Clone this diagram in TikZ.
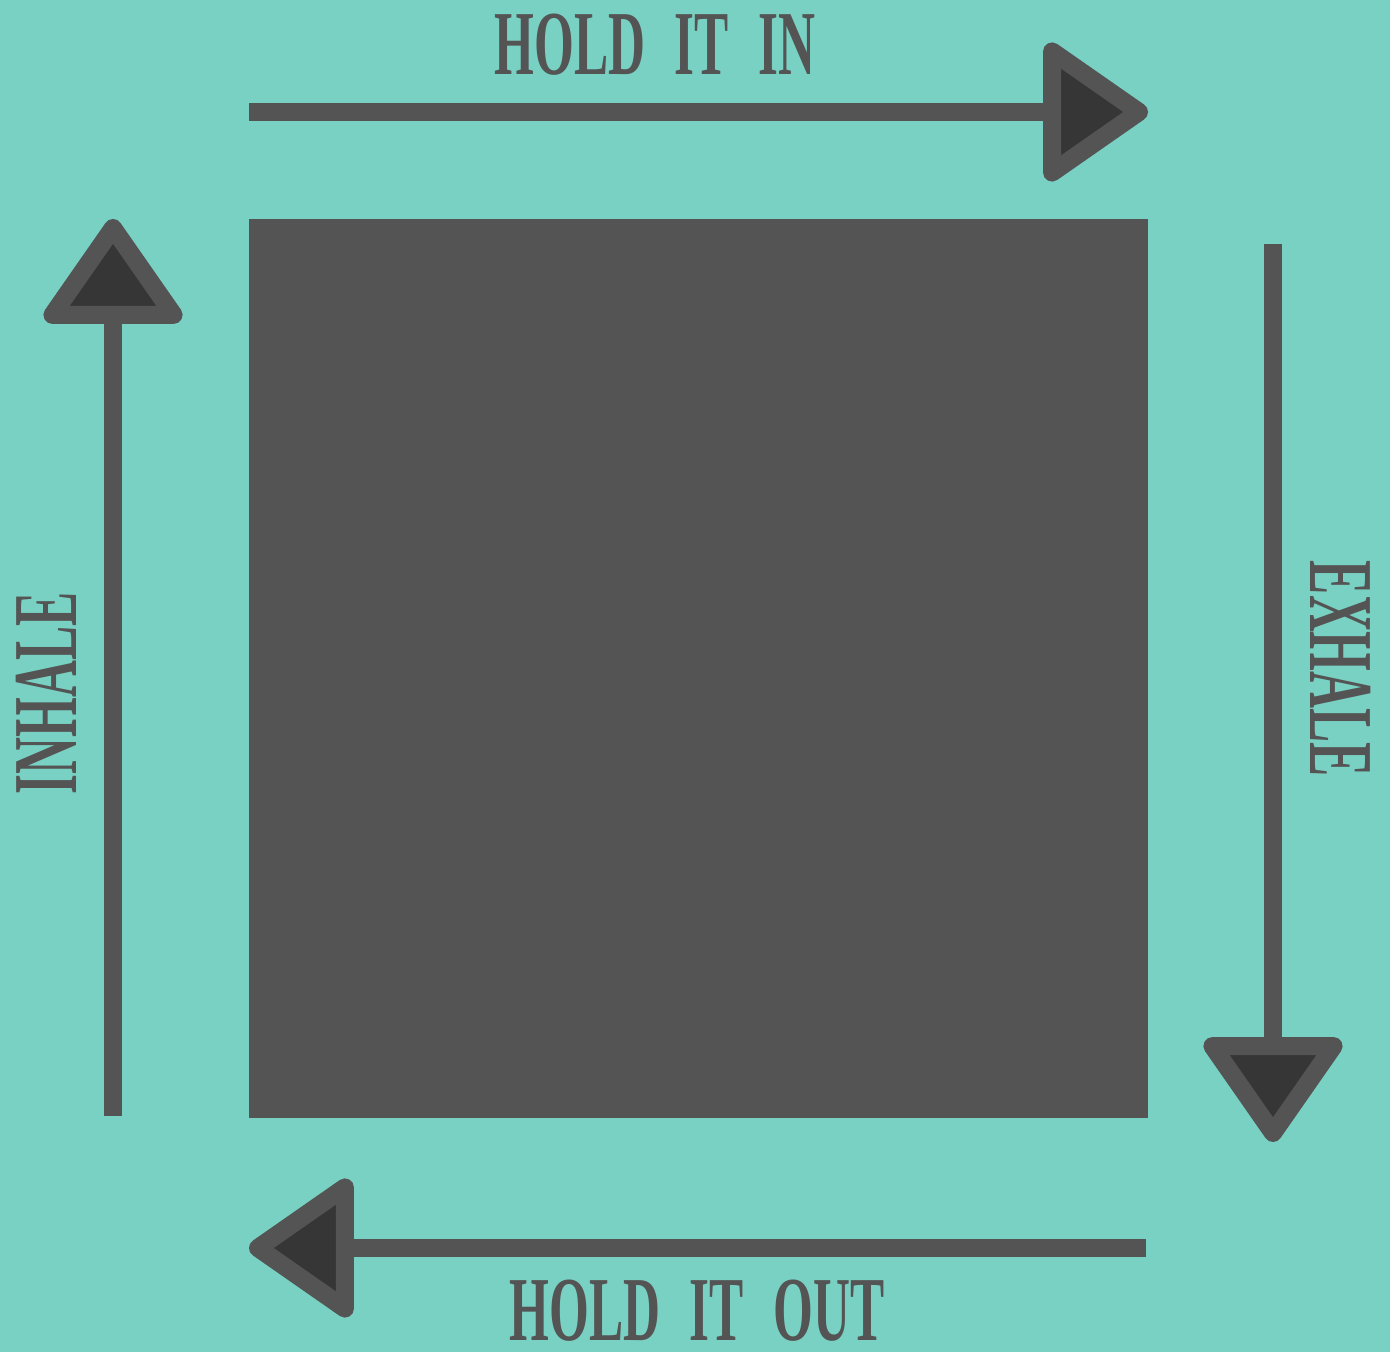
\documentclass[tikz,border=0pt]{standalone}
\usepackage{fontspec}
\newfontfamily\boxfont{Liberation Serif}[FakeStretch=0.56,WordSpace=2.3]
\usetikzlibrary{arrows.meta}

\definecolor{bgteal}{HTML}{79D1C3}
\definecolor{ink}{HTML}{545454}
\definecolor{tipfill}{HTML}{363636}

\begin{document}
\begin{tikzpicture}[
    x=0.01cm, y=-0.01cm,
    flow/.style={line width=0.18cm, draw=ink, -{Triangle[length=1.12cm, width=1.51cm, fill=tipfill, round]}},
    phase/.style={text=ink, inner sep=0pt, font=\boxfont\bfseries\fontsize{26}{26}\selectfont}
]

% background
\fill[bgteal] (0,0) rectangle (1390,1352);
\useasboundingbox (0,0) rectangle (1390,1352);

% the box
\node (square) [fill=ink, minimum size=8.99cm, inner sep=0pt] at (698.5,668.5) {};

% arrow ends
\coordinate (inStart) at (113,1116);
\coordinate (inEnd) at (113,219);
\coordinate (holdinStart) at (249,112);
\coordinate (holdinEnd) at (1148,112);
\coordinate (exStart) at (1273,244);
\coordinate (exEnd) at (1273,1142);
\coordinate (holdoutStart) at (1146,1248);
\coordinate (holdoutEnd) at (249,1248);

\draw [flow] (inStart) -- (inEnd);
\draw [flow] (holdinStart) -- (holdinEnd);
\draw [flow] (exStart) -- (exEnd);
\draw [flow] (holdoutStart) -- (holdoutEnd);

% labels
\node (inhale) [phase, rotate=90] at (46,693) {INHALE};
\node (holdin) [phase] at (655,45) {HOLD IT IN};
\node (exhale) [phase, rotate=-90] at (1341,669) {EXHALE};
\node (holdout) [phase] at (697,1311) {HOLD IT OUT};

\end{tikzpicture}
\end{document}
